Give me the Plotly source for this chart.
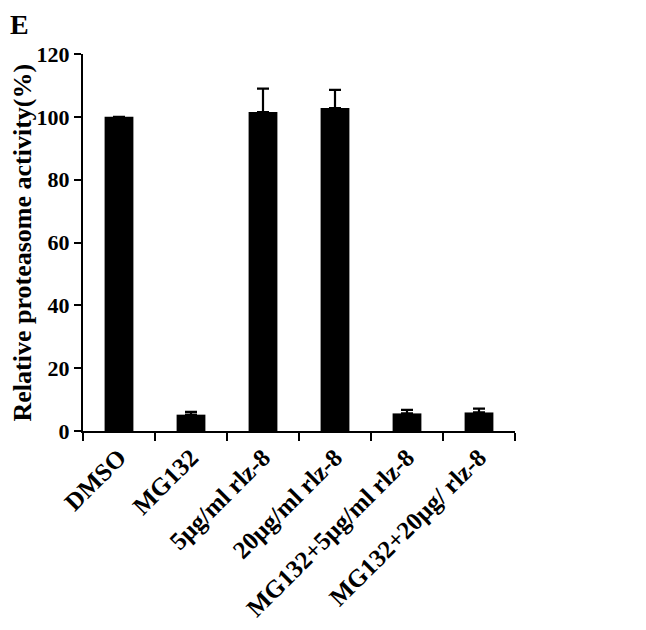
import plotly.graph_objects as go

# Groups and measured relative proteasome activity (%)
groups = ["DMSO", "MG132", "5μg/ml rlz-8", "20μg/ml rlz-8",
          "MG132+5μg/ml rlz-8", "MG132+20μg/ rlz-8"]
activity = [100.0, 5.2, 101.5, 102.8, 5.6, 5.9]
error_up = [0.0, 0.9, 7.5, 5.8, 1.1, 1.2]

FONT = "Liberation Serif"

fig = go.Figure(go.Bar(
    x=groups, y=activity,
    marker=dict(color="black", line=dict(width=0)),
    width=0.4,
    error_y=dict(type="data", symmetric=False, array=error_up,
                 arrayminus=[0] * len(error_up),
                 color="black", thickness=2.2, width=6),
))

# page body has an 8px margin, so the figure is a bit smaller than the window
fig.update_layout(
    width=638, height=622,
    paper_bgcolor="white", plot_bgcolor="white",
    margin=dict(l=75, r=131, t=46, b=199, autoexpand=False),
    font=dict(family=FONT, color="black", size=20),
    showlegend=False,
    xaxis=dict(
        automargin=False,
        showline=True, linecolor="black", linewidth=2,
        ticks="outside", tickson="boundaries", ticklen=8, tickwidth=2, tickcolor="black",
        tickangle=-45, tickfont=dict(family=FONT, size=25, color="black"),
        showgrid=False,
    ),
    yaxis=dict(
        automargin=False,
        range=[0, 120], dtick=20,
        showline=True, linecolor="black", linewidth=2,
        ticks="outside", ticklen=7, tickwidth=2, tickcolor="black",
        tickfont=dict(family=FONT, size=22, color="black"),
        showgrid=False, zeroline=False,
    ),
)
fig.update_xaxes(tickprefix="<b>", ticksuffix="</b>")
fig.update_yaxes(tickprefix="<b>", ticksuffix="</b>")

# y-axis title as a rotated annotation so it sits clear of the tick labels
fig.add_annotation(text="<b>Relative proteasome activity(%)</b>", xref="paper", yref="paper",
                   x=-0.139, y=0.5, xanchor="center", yanchor="middle", textangle=-90,
                   showarrow=False, font=dict(family=FONT, size=26, color="black"))

fig.add_annotation(text="<b>E</b>", xref="paper", yref="paper", x=-0.1736, y=1.125,
                   xanchor="left", yanchor="top", showarrow=False,
                   font=dict(family=FONT, size=28, color="black"))

fig.write_html("out.html")
